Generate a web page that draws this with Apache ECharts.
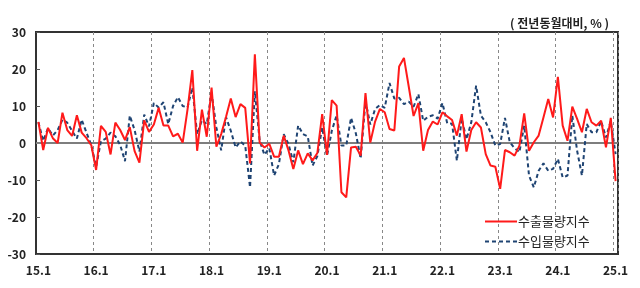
<!DOCTYPE html>
<html><head><meta charset="utf-8">
<script src="https://cdn.jsdelivr.net/npm/echarts@6/dist/echarts.min.js"></script>
<style>html,body{margin:0;padding:0;background:#fff}#c{width:640px;height:288px}</style>
</head><body><div id="c"></div>
<script>
// Categories: monthly, 15.1 .. 25.1
const startYear = 15, endYear = 25;
const categories = [];
for (let y = startYear; y <= endYear; y++) {
  for (let m = 1; m <= 12; m++) {
    if (y === endYear && m > 1) break;
    categories.push(y + '.' + m);
  }
}
const exportVolume = [
  5.7, -1.9, 4.1, 1.3, 0, 8.2, 3.5, 1.9, 7.5, 2.8, 1.3, -0.6,
  -7.3, 4.6, 3, -3.1, 5.5, 3.5, 0.8, 4.3, -2.2, -5.3, 6.1, 3,
  5, 9.5, 4.7, 4.7, 1.8, 2.5, 0.1, 9, 19.7, -2.1, 9, 1.7,
  15, -1, 2.4, 7, 12, 7, 10.5, 9.5, -5.5, 24, 0.1, -1.2,
  -0.2, -3.7, -3.7, 2, -2, -7, -2, -5.7, -2.8, -4.7, -2.7, 7.8,
  -3.2, 11.6, 10.1, -13.3, -14.7, -1.2, -1, -3.4, 13.5, 0.1, 5.8, 9.2,
  8.3, 3.8, 3.4, 20.7, 23, 15.2, 7.3, 10.8, -2.1, 3.5, 5.8, 5,
  8.3, 7.2, 6.2, 2, 7.8, -2.3, 3.5, 5.6, 4.2, -3, -6.1, -6.4,
  -12.4, -1.9, -2.5, -3.4, -0.7, 8, -2.1, 0.2, 2, 6.9, 11.9, 6.9,
  17.9, 4.7, 0.6, 9.8, 6.5, 2.9, 9.2, 5.6, 4.7, 6, -1.2, 6.8,
  -10.3
];
const importVolume = [
  5.6, 0.6, 4, 2, 3.5, 6.3, 5.5, 3.3, 1.2, 6.3, 2.8, -0.6,
  -6.4, 0.5, 1.2, 2.8, 1.8, -0.5, -4.9, 7.4, 3.5, -2.3, 7.7, 4.5,
  10.8, 9.6, 11, 5.1, 10, 12.4, 10, 9.6, 15, 2.4, 6.2, 5.1,
  13.5, 4.2, -2, 7, 3.3, -1.2, 0.4, -0.7, -12, 14, 0.6, -3.2,
  -1.4, -8.8, -5.7, 2.4, -0.3, -5.2, 4.7, 2.4, 1.8, -6.1, -3.5, 4.2,
  -3.5, 3.3, 7.5, -0.7, -0.7, 6.8, 2.6, -4.2, 11.3, 5, 9.2, 10.3,
  9.5, 16.2, 12, 12.2, 10.5, 11.2, 9.8, 13.2, 6, 7.1, 7.5, 6.6,
  10.8, 5.3, 5.2, -4.8, 6.6, 1, 5.6, 15.5, 7.4, 5.6, 2.9, -0.7,
  -0.3, 6.8, 0.2, -1.4, -2.5, 4.7, -8.8, -12, -7.5, -5.5, -7.5, -7,
  -4.3, -9.3, -8.8, 7.4, -2.1, -8.8, 5.1, 2.9, 2.9, 5.9, 1.5, 5.9,
  -3
];
const seriesNames = ['수출물량지수', '수입물량지수'];
const unitText = '( 전년동월대비, % )';

const FONT = '"Noto Sans CJK KR", "Noto Sans", sans-serif';
const chart = echarts.init(document.getElementById('c'), null, {renderer: 'canvas'});
chart.setOption({
  animation: false,
  backgroundColor: '#fff',
  textStyle: {fontFamily: FONT},
  title: {
    text: unitText, right: 26, top: 12,
    textStyle: {fontSize: 12, fontWeight: 'bold', color: '#222', fontFamily: FONT}
  },
  grid: {left: 36, right: 22, top: 32, bottom: 34, show: true, borderColor: '#333', borderWidth: 2, backgroundColor: 'transparent'},
  legend: {
    orient: 'vertical', left: 479, top: 210, itemWidth: 32, itemHeight: 10, itemGap: 7,
    data: seriesNames,
    itemStyle: {opacity: 0},
    textStyle: {fontSize: 13, color: '#222', fontFamily: FONT, padding: [0,0,0,-4]}
  },
  xAxis: {
    type: 'category', data: categories, boundaryGap: true,
    axisLine: {show: true, lineStyle: {color: '#333', width: 2}},
    axisTick: {show: false},
    axisLabel: {interval: 11, fontSize: 12, fontWeight: 'bold', color: '#222', margin: 10, fontFamily: FONT},
    splitLine: {show: true, interval: 11, lineStyle: {color: '#888', width: 1, type: [3, 3]}}
  },
  yAxis: {
    type: 'value', min: -30, max: 30, interval: 10,
    axisLine: {show: true, lineStyle: {color: '#333', width: 2}},
    axisTick: {show: true, inside: true, length: 4, lineStyle: {color: '#555'}},
    axisLabel: {fontSize: 12, fontWeight: 'bold', color: '#222', margin: 10, fontFamily: FONT},
    splitLine: {show: false}
  },
  series: [
    {
      name: seriesNames[0], type: 'line', data: exportVolume, symbol: 'none', z: 3,
      lineStyle: {color: '#ff1a1a', width: 2}, itemStyle: {color: '#ff1a1a'},
      markLine: {
        silent: true, symbol: 'none', label: {show: false}, z: 1,
        lineStyle: {color: '#999', width: 1.5, type: 'solid'},
        data: [{yAxis: 0}]
      }
    },
    {
      name: seriesNames[1], type: 'line', data: importVolume, symbol: 'none', z: 2,
      lineStyle: {color: '#1f4473', width: 2, type: [4, 3]}, itemStyle: {color: '#1f4473'}
    }
  ]
});
</script></body></html>
